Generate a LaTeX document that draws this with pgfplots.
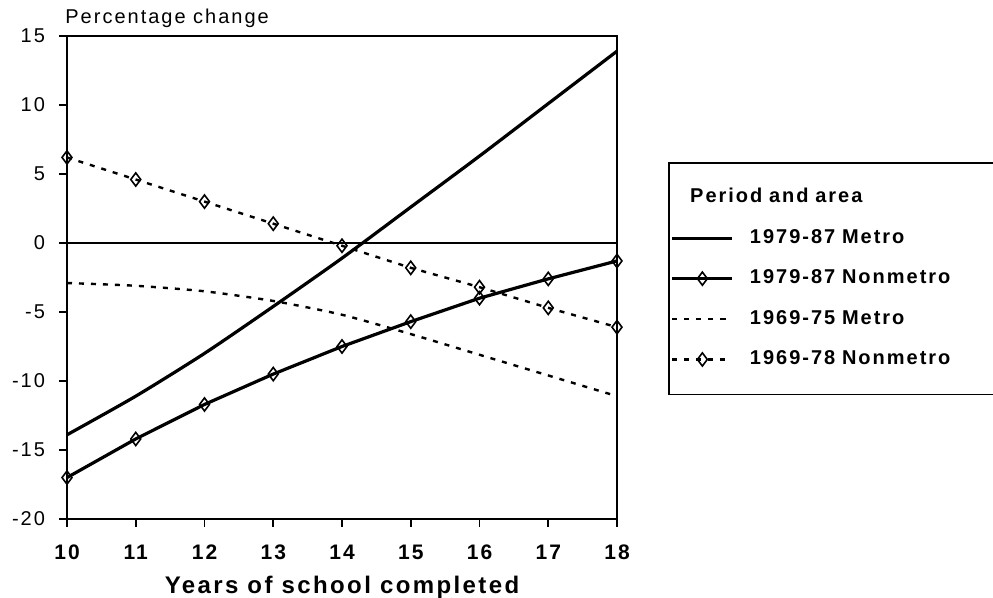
\documentclass[border=0pt]{standalone}
\usepackage{fontspec}
\setmainfont{Liberation Sans}
\newfontfamily\cf{Liberation Sans}[LetterSpace=10]
\usepackage{pgfplots}
\usepackage{pgfplotstable}
\pgfplotsset{compat=1.18}
\pgfplotstableread{
x m79 n79 m69 n69
10 -13.9 -17.0 -2.9 6.2
11 -11.1 -14.2 -3.1 4.6
12 -8.0 -11.7 -3.5 3.0
13 -4.6 -9.5 -4.2 1.4
14 -1.1 -7.5 -5.2 -0.2
15 2.6 -5.7 -6.6 -1.8
16 6.3 -4.0 -8.1 -3.2
17 10.1 -2.6 -9.6 -4.7
18 13.9 -1.3 -11.1 -6.1
}\datatable
\begin{document}
\begin{tikzpicture}
\begin{axis}[
  at={(33.5pt,39.5pt)}, anchor=south west,
  scale only axis, width=275pt, height=241.5pt,
  xmin=10, xmax=18, ymin=-20, ymax=15,
  xtick={10,...,18}, ytick={-20,-15,...,15},
  xticklabels={10,11,12,13,14,15,16,17,18},
  yticklabels={-20,-15,-10,-5,0,5,10,15},
  /pgf/number format/assume math mode=true,
  tick pos=left, tick align=outside, major tick length=4pt,
  axis line style={line width=0.8pt}, tick style={line width=0.8pt,black},
  clip=false,
  xticklabel style={font=\cf\bfseries\fontsize{10.5}{12}\selectfont, yshift=-5.5pt},
  yticklabel style={font=\cf\fontsize{10}{12}\selectfont, anchor=east, xshift=-3.5pt},
  xlabel={Years of school completed},
  xlabel style={font=\cf\bfseries\fontsize{12}{14}\selectfont, at={(axis description cs:0.5,0)}, anchor=north, inner sep=0pt, yshift=-28.5pt},
  title={Percentage change},
  title style={font=\cf\fontsize{10}{12}\selectfont, at={(axis description cs:0,1)}, anchor=base west, inner sep=0pt, yshift=0pt, xshift=-1pt},
  legend style={at={(1.0927,0.739)}, anchor=north west, draw=black, line width=0.8pt,
    inner xsep=1pt, inner ysep=12.5pt, row sep=10.2pt,
    font=\cf\bfseries\fontsize{10}{12}\selectfont,
    nodes={inner sep=0pt, text height=7.5pt, text depth=2.5pt, text width=130pt, anchor=west},
    /tikz/every odd column/.append style={column sep=8pt}},
  legend cell align=left,
  legend image code/.code={\draw[mark repeat=2,mark phase=2,#1] plot coordinates {(0pt,0pt) (15pt,0pt) (30pt,0pt)};},
]
\addlegendimage{legend image code/.code={\node[overlay, anchor=west, inner sep=0pt, text width=130pt, font=\cf\bfseries\fontsize{10}{12}\selectfont] at (8.5pt,0pt) {Period and area};}}
\addlegendentry{}
\addplot[black, line width=0.8pt, forget plot] coordinates {(10,0) (18,0)};
\addplot[black, line width=1.6pt, smooth, tension=0.4] table[x=x, y=m79] {\datatable};
\addlegendentry{1979-87 Metro}
\addplot[black, line width=1.6pt, mark=diamond, mark size=3.3pt, mark options={solid, fill=white, line width=0.8pt}] table[x=x, y=n79] {\datatable};
\addlegendentry{1979-87 Nonmetro}
\addplot[black, line width=1.2pt, dash pattern=on 2.5pt off 3.5pt, smooth, tension=0.4] table[x=x, y=m69] {\datatable};
\addlegendentry{1969-75 Metro}
\addplot[black, line width=1.2pt, dash pattern=on 2.5pt off 3.5pt, mark=diamond, mark size=3.3pt, mark options={solid, fill=white, line width=0.8pt}] table[x=x, y=n69] {\datatable};
\addlegendentry{1969-78 Nonmetro}
\end{axis}
\pgfresetboundingbox
\useasboundingbox (0,0) rectangle (496.5pt,299pt);
\end{tikzpicture}
\end{document}
